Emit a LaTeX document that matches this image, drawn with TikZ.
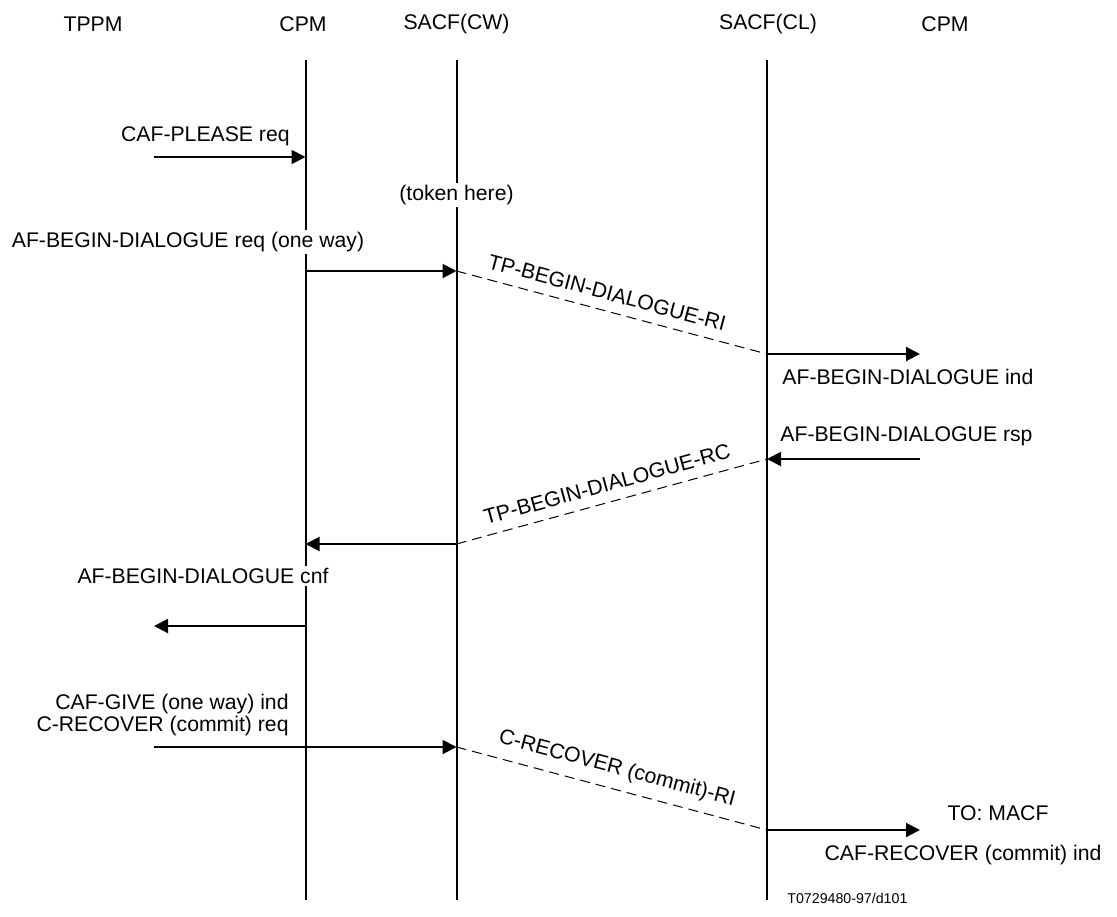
\documentclass[tikz,border=0pt]{standalone}
\usepackage{fontspec}
\setmainfont{Liberation Sans}
\usetikzlibrary{arrows.meta}
\begin{document}
\begin{tikzpicture}[x=0.5pt,y=-0.5pt,
  lifeline/.style={line width=1pt},
  msg/.style={line width=1pt,-{Triangle[length=7pt,width=7pt]}},
  relay/.style={line width=0.5pt,dash pattern=on 5pt off 3pt},
  lbl/.style={font=\fontsize{10.6}{11}\selectfont,inner sep=1pt},
  masklbl/.style={lbl,fill=white},
  small/.style={font=\fontsize{7.1}{8}\selectfont,inner sep=1pt}]
\useasboundingbox (0,0) rectangle (1117,916);
% headers
\node[lbl] (hTPPM) at (93,24) {TPPM};
\node[lbl] (hCPM) at (303,24) {CPM};
\node[lbl] (hCW) at (456.5,24) {SACF(CW)};
\node[lbl] (hCL) at (768,24) {SACF(CL)};
\node[lbl] (hCPM2) at (945,24) {CPM};
% lifelines
\coordinate (cpmT) at (305.5,60); \coordinate (cpmB) at (305.5,900);
\coordinate (cwT) at (456.5,60);  \coordinate (cwB) at (456.5,900);
\coordinate (clT) at (767,60);    \coordinate (clB) at (767,900);
\draw[lifeline] (cpmT) -- (cpmB);
\draw[lifeline] (cwT) -- (cwB);
\draw[lifeline] (clT) -- (clB);
% message points
\coordinate (a1) at (154,157);   \coordinate (a2) at (305.5,157);
\coordinate (b1) at (305.5,271); \coordinate (b2) at (456.5,271);
\coordinate (c1) at (767,354);   \coordinate (c2) at (920,354);
\coordinate (d1) at (920,459);   \coordinate (d2) at (767,459);
\coordinate (e1) at (456.5,544); \coordinate (e2) at (305.5,544);
\coordinate (f1) at (305.5,626); \coordinate (f2) at (154,626);
\coordinate (g1) at (154,747);   \coordinate (g2) at (456.5,747);
\coordinate (h1) at (767,830);   \coordinate (h2) at (920,830);
% arrows
\draw[msg] (a1) -- (a2);
\draw[msg] (b1) -- (b2);
\draw[relay] (b2) -- node[lbl,sloped,above=4pt,pos=0.47] (lRI) {TP-BEGIN-DIALOGUE-RI} (c1);
\draw[msg] (c1) -- (c2);
\draw[msg] (d1) -- (d2);
\draw[relay] (e1) -- node[lbl,sloped,above=4pt,pos=0.5] (lRC) {TP-BEGIN-DIALOGUE-RC} (d2);
\draw[msg] (e1) -- (e2);
\draw[msg] (f1) -- (f2);
\draw[msg] (g1) -- (g2);
\draw[relay] (g2) -- node[lbl,sloped,above=4pt,pos=0.5] (lCR) {C-RECOVER (commit)-RI} (h1);
\draw[msg] (h1) -- (h2);
% labels
\node[lbl,anchor=east] (l1) at (292,136) {CAF-PLEASE req};
\node[masklbl] (tok) at (456.5,195) {(token here)};
\node[masklbl] (l2) at (188,242) {AF-BEGIN-DIALOGUE req (one way)};
\node[lbl,anchor=west] (l3) at (780,377) {AF-BEGIN-DIALOGUE ind};
\node[lbl,anchor=west] (l4) at (778,436) {AF-BEGIN-DIALOGUE rsp};
\node[masklbl] (l5) at (203,576) {AF-BEGIN-DIALOGUE cnf};
\node[lbl,anchor=east,align=right] (l6) at (291,715) {CAF-GIVE (one way) ind\\C-RECOVER (commit) req};
\node[lbl] (l7) at (998,813) {TO: MACF};
\node[lbl] (l8) at (963,855) {CAF-RECOVER (commit) ind};
\node[small,anchor=west] (ref) at (785,898) {T0729480-97/d101};
\end{tikzpicture}
\end{document}
